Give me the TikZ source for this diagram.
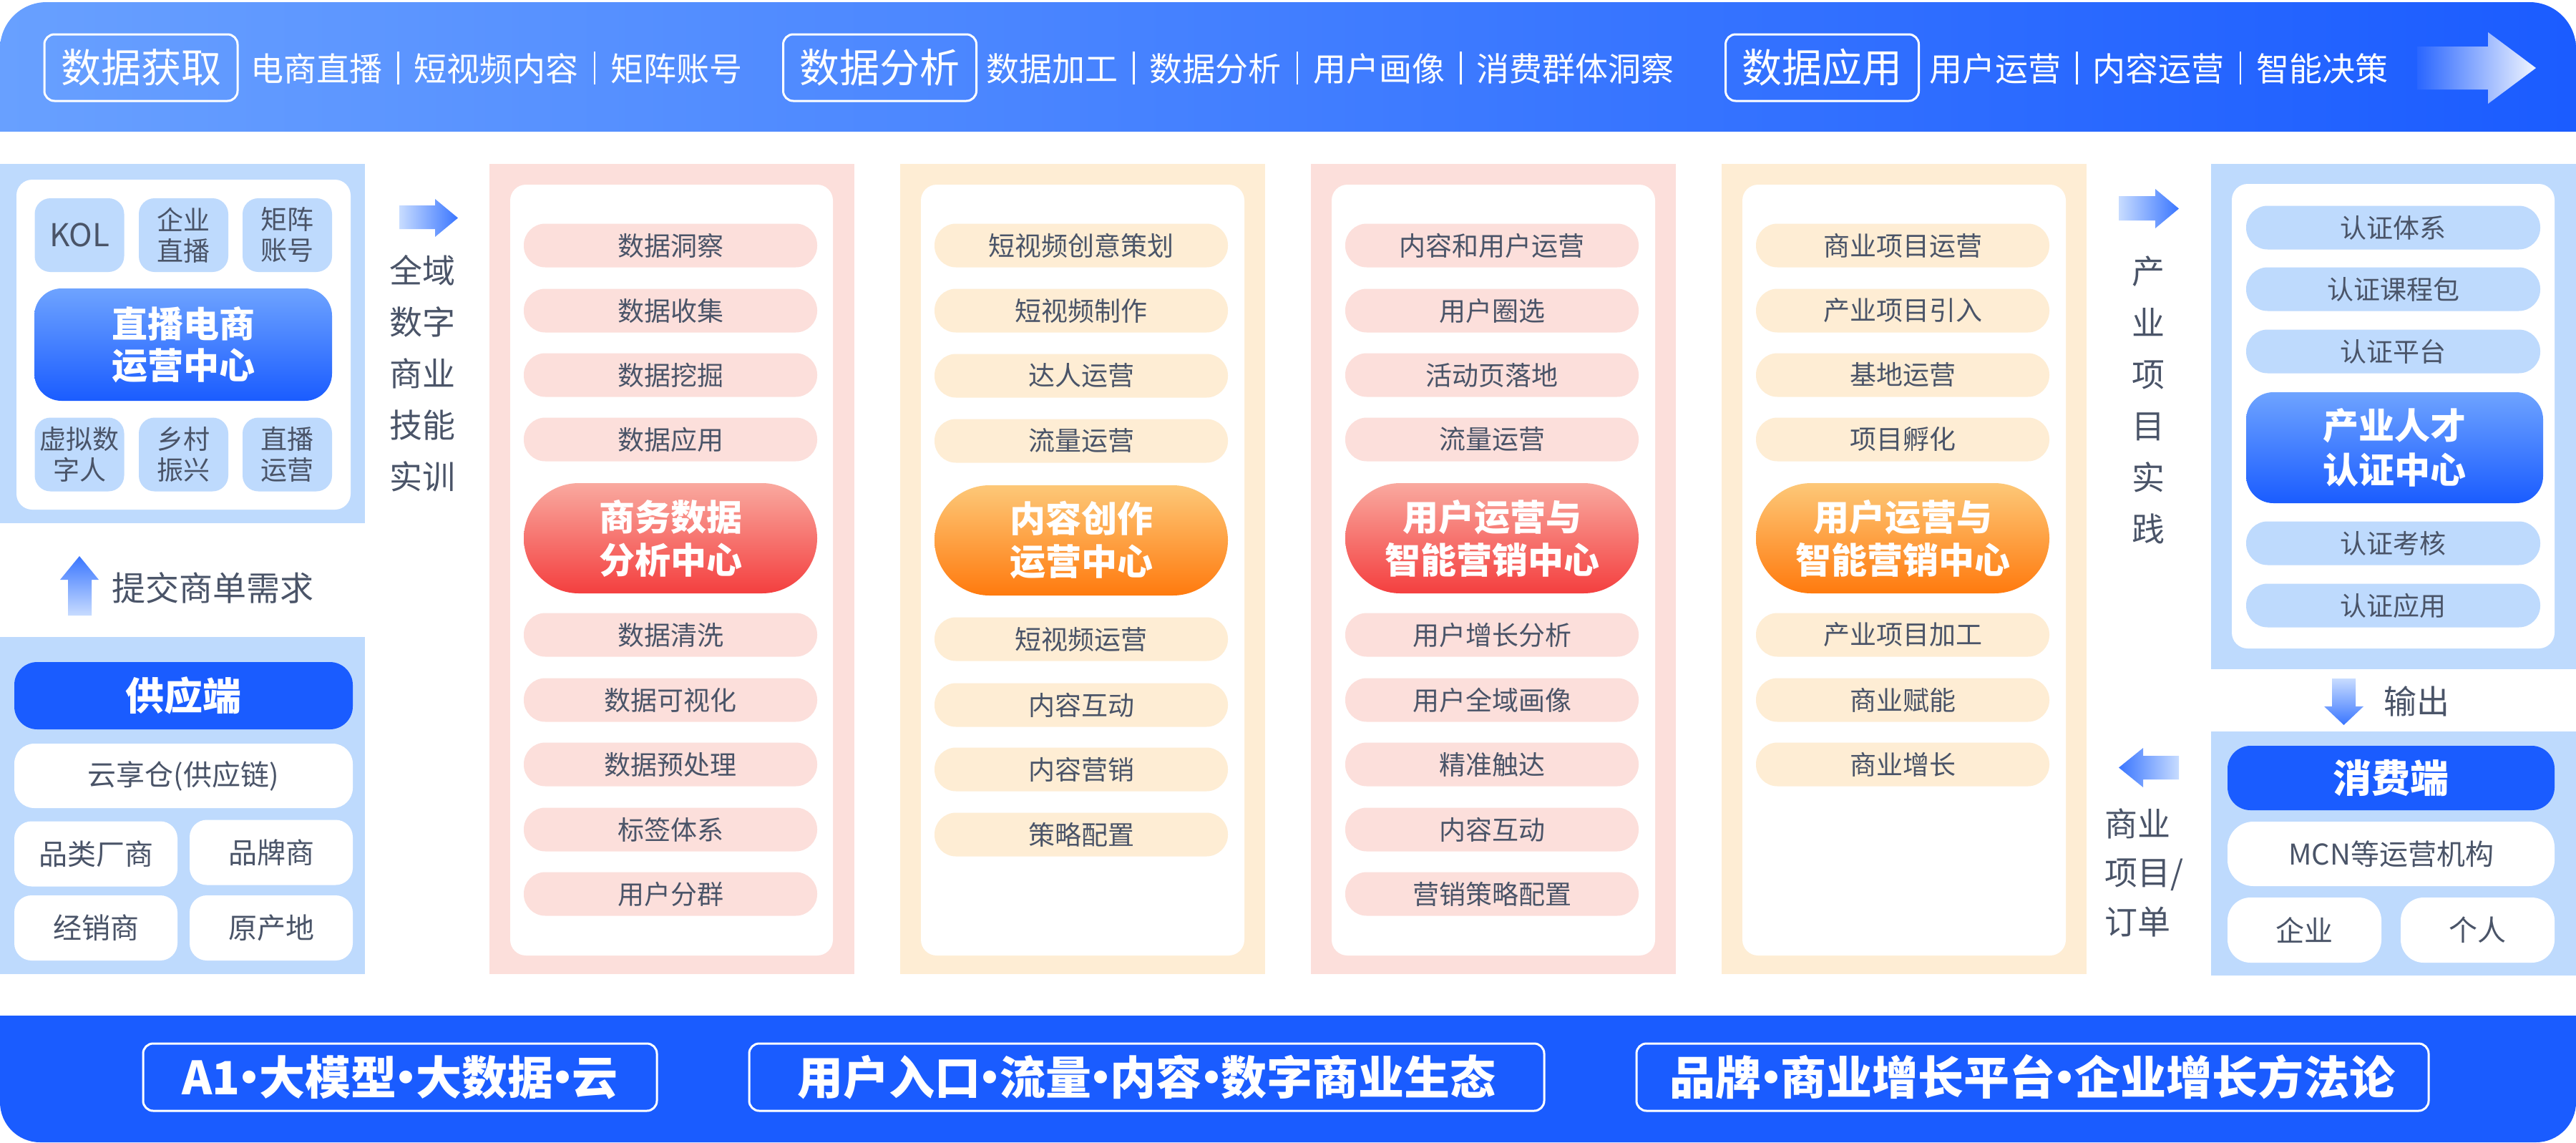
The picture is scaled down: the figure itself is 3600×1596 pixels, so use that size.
\documentclass[tikz,border=0pt]{standalone}
\usepackage{fontspec}
\setmainfont{Noto Sans CJK SC}
\definecolor{txt}{HTML}{4A5468}
\definecolor{lblue}{HTML}{BEDAFD}
\definecolor{bblue}{HTML}{1A5CFF}
\definecolor{pinkbg}{HTML}{FCDFDB}
\definecolor{creambg}{HTML}{FEEDD4}
\definecolor{redtop}{HTML}{F9A99F}
\definecolor{redbot}{HTML}{F43F3F}
\definecolor{ortop}{HTML}{FDC878}
\definecolor{orbot}{HTML}{FF7A0E}
\definecolor{gbtop}{HTML}{6EA3FF}
\definecolor{gbbot}{HTML}{1A5CFF}
\definecolor{banL}{HTML}{68A0FF}
\definecolor{banR}{HTML}{1B5CFF}
\definecolor{arrL}{HTML}{C8DCFF}
\definecolor{arrD}{HTML}{3A76FF}
\definecolor{banArr}{HTML}{2A66FF}
\definecolor{arrW}{HTML}{F0F5FF}
\newcommand\vsep{\hspace{21pt}\rule[-5pt]{2.5pt}{46pt}\hspace{21pt}}
\newcommand\mdot{\makebox[0.42em]{·}}
\tikzset{
  base/.style={inner sep=0pt, outer sep=0pt},
  pill/.style={base, rounded corners=30pt, minimum width=410pt, minimum height=61pt, text=txt, font=\fontsize{37}{44}\selectfont},
  pinkpill/.style={pill, fill=pinkbg},
  creampill/.style={pill, fill=creambg},
  bluepill/.style={pill, fill=lblue, minimum width=411pt},
  centerpill/.style={base, rounded corners=77pt, minimum width=410pt, minimum height=154pt, text=white, align=center, font=\bfseries\fontsize{50}{60}\selectfont},
  redcenter/.style={centerpill, top color=redtop, bottom color=redbot},
  orcenter/.style={centerpill, top color=ortop, bottom color=orbot},
  bluecenter/.style={base, rounded corners=38pt, top color=gbtop, bottom color=gbbot, text=white, align=center, font=\bfseries\fontsize{50}{60}\selectfont},
  smallbox/.style={base, rounded corners=22pt, fill=lblue, minimum width=125pt, minimum height=103pt, text=txt, align=center, font=\fontsize{37}{43}\selectfont},
  whitebox/.style={base, rounded corners=28pt, fill=white, minimum height=91pt, text=txt, align=center, font=\fontsize{40}{48}\selectfont},
  headbox/.style={base, rounded corners=32pt, fill=bblue, minimum height=92pt, text=white, font=\bfseries\fontsize{54}{60}\selectfont},
  toplabel/.style={base, draw=white, line width=3pt, rounded corners=14pt, minimum width=270pt, minimum height=93pt, text=white, font=\fontsize{56}{60}\selectfont},
  topitems/.style={base, anchor=west, text=white, font=\fontsize{46}{50}\selectfont},
  botlabel/.style={base, draw=white, line width=3pt, rounded corners=14pt, minimum height=94pt, text=white, font=\bfseries\fontsize{64}{68}\selectfont},
  sidetext/.style={base, text=txt, align=center, font=\fontsize{46}{72}\selectfont},
}
\begin{document}
\begin{tikzpicture}[x=1pt,y=-1pt]
\useasboundingbox (0,0) rectangle (3600,1596);
\fill[white] (0,0) rectangle (3600,1596);

% ---------- top banner ----------
\shade[left color=banL, right color=banR, rounded corners=65pt] (0,3) rectangle (3600,183);
\shade[left color=banL, right color=banR] (0,110) rectangle (3600,183);
\node[toplabel] (t1) at (197,94.5) {数据获取};
\node[topitems] (t1i) at (350,95) {电商直播\vsep 短视频内容\vsep 矩阵账号};
\node[toplabel] (t2) at (1229.5,94.5) {数据分析};
\node[topitems] (t2i) at (1378,95) {数据加工\vsep 数据分析\vsep 用户画像\vsep 消费群体洞察};
\node[toplabel] (t3) at (2546.5,94.5) {数据应用};
\node[topitems] (t3i) at (2696,95) {用户运营\vsep 内容运营\vsep 智能决策};
\shade[left color=banArr, right color=arrW] (3378,65) -- (3477,65) -- (3477,45) -- (3544,95) -- (3477,145) -- (3477,125) -- (3378,125) -- cycle;

% ---------- left top panel ----------
\fill[lblue] (0,229) rectangle (510,731);
\fill[white, rounded corners=22pt] (23,251) rectangle (490,712);
\node[smallbox, font=\fontsize{44}{50}\selectfont] (kol) at (111,328.5) {KOL};
\node[smallbox] (qyzb) at (256.5,328.5) {企业\\直播};
\node[smallbox] (jzzh) at (401.5,328.5) {矩阵\\账号};
\node[bluecenter, minimum width=416pt, minimum height=157pt, font=\bfseries\fontsize{50}{58}\selectfont] (zbds) at (256,481.5) {直播电商\\运营中心};
\node[smallbox] (xnsz) at (111,635) {虚拟数\\字人};
\node[smallbox] (xczx) at (256.5,635) {乡村\\振兴};
\node[smallbox] (zbyy) at (401.5,635) {直播\\运营};

% arrow + 全域数字商业技能实训
\shade[left color=arrL, right color=arrD] (558,287) -- (608,287) -- (608,278) -- (640,304.5) -- (608,331) -- (608,320) -- (558,320) -- cycle;
\node[sidetext] (qy) at (590,522) {全域\\数字\\商业\\技能\\实训};

% up arrow + 提交商单需求
\shade[top color=arrD, bottom color=arrL] (111,777) -- (138,810) -- (128,810) -- (128,860) -- (95,860) -- (95,810) -- (84,810) -- cycle;
\node[base, anchor=west, text=txt, font=\fontsize{47}{50}\selectfont] (tj) at (156,821) {提交商单需求};

% ---------- supply panel ----------
\fill[lblue] (0,890) rectangle (510,1361);
\node[headbox, minimum width=473pt, minimum height=94pt] (gyd) at (256.5,972) {供应端};
\node[whitebox, minimum width=473pt, minimum height=90pt] (yxc) at (256.5,1084) {云享仓(供应链)};
\node[whitebox, minimum width=228pt, rounded corners=24pt] (plcs) at (134,1193) {品类厂商};
\node[whitebox, minimum width=228pt, rounded corners=24pt] (ppd) at (379,1191) {品牌商};
\node[whitebox, minimum width=228pt, rounded corners=24pt] (jxs) at (134,1296.5) {经销商};
\node[whitebox, minimum width=228pt, rounded corners=24pt] (ycd) at (379,1296.5) {原产地};

% ---------- column 1 ----------
\fill[pinkbg] (684,229) rectangle (1194,1361);
\fill[white, rounded corners=22pt] (713,258) rectangle (1164,1335);
\node[pinkpill] (a1) at (937,343) {数据洞察};
\node[pinkpill] (a2) at (937,434) {数据收集};
\node[pinkpill] (a3) at (937,524) {数据挖掘};
\node[pinkpill] (a4) at (937,614) {数据应用};
\node[redcenter] (ac) at (937,752) {商务数据\\分析中心};
\node[pinkpill] (a5) at (937,887) {数据清洗};
\node[pinkpill] (a6) at (937,978) {数据可视化};
\node[pinkpill] (a7) at (937,1068) {数据预处理};
\node[pinkpill] (a8) at (937,1159) {标签体系};
\node[pinkpill] (a9) at (937,1249) {用户分群};

% ---------- column 2 ----------
\fill[creambg] (1258,229) rectangle (1768,1361);
\fill[white, rounded corners=22pt] (1287,258) rectangle (1739,1335);
\node[creampill] (b1) at (1511,343) {短视频创意策划};
\node[creampill] (b2) at (1511,434) {短视频制作};
\node[creampill] (b3) at (1511,525) {达人运营};
\node[creampill] (b4) at (1511,616) {流量运营};
\node[orcenter] (bc) at (1511,755) {内容创作\\运营中心};
\node[creampill] (b5) at (1511,893) {短视频运营};
\node[creampill] (b6) at (1511,985) {内容互动};
\node[creampill] (b7) at (1511,1075) {内容营销};
\node[creampill] (b8) at (1511,1166) {策略配置};

% ---------- column 3 ----------
\fill[pinkbg] (1832,229) rectangle (2342,1361);
\fill[white, rounded corners=22pt] (1861,258) rectangle (2313,1335);
\node[pinkpill] (c1) at (2085,343) {内容和用户运营};
\node[pinkpill] (c2) at (2085,434) {用户圈选};
\node[pinkpill] (c3) at (2085,524) {活动页落地};
\node[pinkpill] (c4) at (2085,614) {流量运营};
\node[redcenter] (cc) at (2085,752) {用户运营与\\智能营销中心};
\node[pinkpill] (c5) at (2085,887) {用户增长分析};
\node[pinkpill] (c6) at (2085,978) {用户全域画像};
\node[pinkpill] (c7) at (2085,1068) {精准触达};
\node[pinkpill] (c8) at (2085,1159) {内容互动};
\node[pinkpill] (c9) at (2085,1249) {营销策略配置};

% ---------- column 4 ----------
\fill[creambg] (2406,229) rectangle (2916,1361);
\fill[white, rounded corners=22pt] (2435,258) rectangle (2887,1335);
\node[creampill] (d1) at (2659,343) {商业项目运营};
\node[creampill] (d2) at (2659,434) {产业项目引入};
\node[creampill] (d3) at (2659,524) {基地运营};
\node[creampill] (d4) at (2659,614) {项目孵化};
\node[orcenter] (dc) at (2659,752) {用户运营与\\智能营销中心};
\node[creampill] (d5) at (2659,887) {产业项目加工};
\node[creampill] (d6) at (2659,978) {商业赋能};
\node[creampill] (d7) at (2659,1068) {商业增长};

% ---------- right: 产业项目实践 ----------
\shade[left color=arrL, right color=arrD] (2961,274) -- (3012,274) -- (3012,264) -- (3045,291.5) -- (3012,319) -- (3012,308) -- (2961,308) -- cycle;
\node[sidetext] (cyxm) at (3002,558.5) {产\\业\\项\\目\\实\\践};

\fill[lblue] (3090,229) rectangle (3600,935);
\fill[white, rounded corners=22pt] (3119,257) rectangle (3570,906);
\node[bluepill] (e1) at (3344.5,318) {认证体系};
\node[bluepill] (e2) at (3344.5,404) {认证课程包};
\node[bluepill] (e3) at (3344.5,491) {认证平台};
\node[bluecenter, minimum width=415pt, minimum height=155pt, font=\bfseries\fontsize{50}{62}\selectfont] (ec) at (3346.5,625.5) {产业人才\\认证中心};
\node[bluepill] (e4) at (3344.5,759) {认证考核};
\node[bluepill] (e5) at (3344.5,846) {认证应用};

% down arrow + 输出
\shade[top color=arrL, bottom color=arrD] (3259,948) -- (3292,948) -- (3292,987) -- (3303,987) -- (3275.5,1013) -- (3248,987) -- (3259,987) -- cycle;
\node[base, text=txt, font=\fontsize{46}{50}\selectfont] (sc) at (3377,980) {输出};

% consumer panel
\fill[lblue] (3090,1022) rectangle (3600,1363);
\node[headbox, minimum width=457pt, minimum height=90pt] (xfd) at (3341.5,1087) {消费端};
\node[whitebox, minimum width=457pt, minimum height=90pt, rounded corners=36pt] (mcn) at (3341.5,1193) {MCN等运营机构};
\node[whitebox, minimum width=215pt, rounded corners=32pt] (qye) at (3220.5,1299.5) {企业};
\node[whitebox, minimum width=215pt, rounded corners=32pt] (grn) at (3462.5,1299.5) {个人};

% left arrow + 商业项目/订单
\shade[left color=arrD, right color=arrL] (2961,1072.5) -- (2995,1045) -- (2995,1056) -- (3045,1056) -- (3045,1089) -- (2995,1089) -- (2995,1100) -- cycle;
\node[base, anchor=west, text=txt, align=left, font=\fontsize{46}{68.5}\selectfont] (sydd) at (2941,1219) {商业\\项目/\\订单};

% ---------- bottom banner ----------
\fill[bblue, rounded corners=56pt] (0,1419) rectangle (3600,1596);
\fill[bblue] (0,1419) rectangle (3600,1500);
\node[botlabel, minimum width=718pt] (bA) at (559,1505) {A1\mdot 大模型\mdot 大数据\mdot 云};
\node[botlabel, minimum width=1111pt] (bB) at (1602.5,1505) {用户入口\mdot 流量\mdot 内容\mdot 数字商业生态};
\node[botlabel, minimum width=1107pt] (bC) at (2840.5,1505) {品牌\mdot 商业增长平台\mdot 企业增长方法论};
\end{tikzpicture}
\end{document}
